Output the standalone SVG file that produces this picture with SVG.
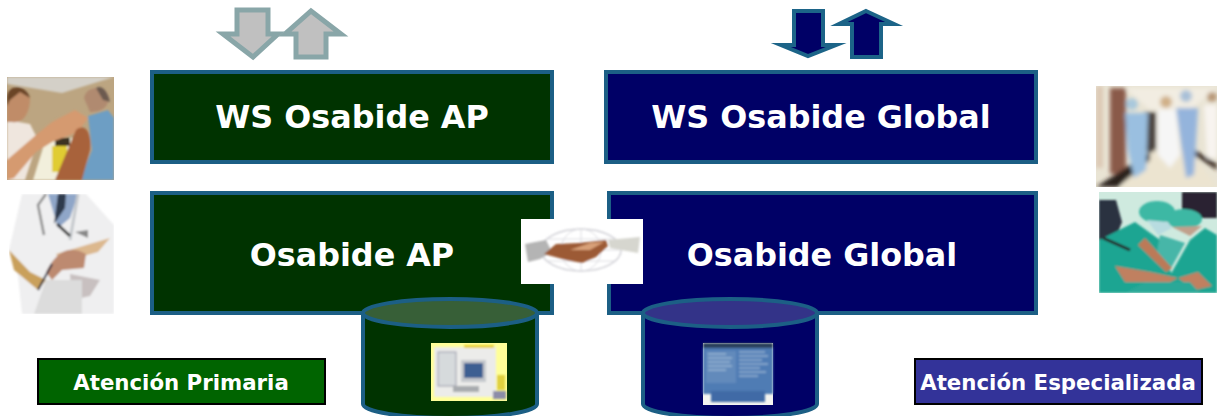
<svg xmlns="http://www.w3.org/2000/svg" width="1217" height="416" viewBox="0 0 1217 416">
<style>
.box{stroke:#1c5f85;stroke-width:4}
.g{fill:#003300}
.n{fill:#000066}
.t{font-family:"DejaVu Sans",Verdana,sans-serif;font-weight:700;fill:#fff;text-anchor:middle}
.big{font-size:31.800px}
.small{font-size:21.300px}
.lab{stroke:#000;stroke-width:2}
.ga{fill:#c0c0c0;stroke:#89a6a8;stroke-width:5;stroke-miterlimit:20}
.na{fill:#000066;stroke:#1c6488;stroke-width:4;stroke-miterlimit:20}
.cs{stroke:#1c5f85;stroke-width:4}
</style>
<defs>
<filter id="b" x="-10%" y="-10%" width="120%" height="120%"><feGaussianBlur stdDeviation="1"/></filter>
<filter id="b3" x="-20%" y="-20%" width="140%" height="140%"><feGaussianBlur stdDeviation="2"/></filter>
<clipPath id="c1"><rect x="7" y="77" width="107" height="103"/></clipPath>
<clipPath id="c2"><rect x="9" y="194" width="105" height="120"/></clipPath>
<clipPath id="c3"><rect x="1096" y="86" width="121" height="101"/></clipPath>
<clipPath id="c4"><rect x="1099" y="192" width="118" height="101"/></clipPath>
</defs>
<g id="arrows-ap">
<path class="ga" d="M237 10H268V34H278L253 57L223 34H237Z"/>
<path class="ga" d="M311 11L341 34H326V57H296V34H285Z"/>
</g>
<g id="arrows-global">
<path class="na" d="M794 11H823V45H836L808 56L781 45H794Z"/>
<path class="na" d="M866 11L894 24H881V57H852V24H839Z"/>
</g>
<g id="ws-ap"><rect class="box g" x="152" y="72" width="400" height="90"/><text class="t big" x="352" y="128">WS Osabide AP</text></g>
<g id="ws-global"><rect class="box n" x="606" y="72" width="430" height="90"/><text class="t big" x="821" y="128">WS Osabide Global</text></g>
<g id="osabide-ap"><rect class="box g" x="152" y="193" width="400" height="120"/><text class="t big" x="352" y="266">Osabide AP</text></g>
<g id="osabide-global"><rect class="box n" x="609" y="193" width="427" height="120"/><text class="t big" x="822" y="266">Osabide Global</text></g>
<g id="db-ap">
<path class="cs g" d="M363 313V404A87 14 0 0 0 537 404V313Z"/>
<ellipse class="cs" fill="#375f37" cx="450" cy="313" rx="87" ry="14"/>
<rect x="431" y="343" width="76" height="58" fill="#ffff99"/>
<g filter="url(#b)">
<rect x="434" y="347" width="62" height="50" fill="#ececea"/>
<rect x="464" y="345" width="30" height="3" fill="#e6cf30"/>
<rect x="438" y="352" width="18" height="34" fill="#d6dadc" stroke="#99a" stroke-width="1"/>
<rect x="461" y="360" width="25" height="22" fill="#c4c7cc"/>
<rect x="464" y="363" width="19" height="15" fill="#3c5f92"/>
<rect x="453" y="386" width="26" height="6" fill="#a8abaf"/>
<rect x="497" y="375" width="8" height="15" fill="#e0d040"/>
<rect x="493" y="391" width="13" height="8" fill="#8c8ca8"/>
</g>
</g>
<g id="db-global">
<path class="cs n" d="M643 313V404A87 14 0 0 0 817 404V313Z"/>
<ellipse class="cs" fill="#333388" cx="730" cy="313" rx="87" ry="14"/>
<rect x="703" y="343" width="70" height="62" fill="#f4f4f0"/>
<g filter="url(#b)">
<rect x="703" y="343" width="70" height="51" fill="#4f7cb4"/>
<rect x="703" y="343" width="70" height="5" fill="#2c3f5c"/>
<rect x="706" y="351" width="30" height="32" fill="#6f95c0" opacity=".6"/>
<path d="M739 352H765M739 356H768M739 360H762M739 364H768M739 368H760M739 372H766M739 376H758M708 354H726M708 358H732M708 362H730M708 366H732M708 370H726" stroke="#b4cbe0" stroke-width="1" fill="none"/>
<rect x="711" y="391" width="54" height="11" fill="#3f6aa6"/>
</g>
</g>
<g id="handshake">
<rect x="521" y="219" width="122" height="65" fill="#fff"/>
<g filter="url(#b)">
<ellipse cx="581" cy="250" rx="40" ry="21" fill="none" stroke="#d0d0d6" stroke-width="1.500"/>
<ellipse cx="581" cy="250" rx="20" ry="21" fill="none" stroke="#dcdce0" stroke-width="1"/>
<path d="M581 229V271M543 250H619M548 239H614M548 261H614" stroke="#dcdce0" stroke-width="1" fill="none"/>
<path d="M525 244L546 240L552 252L540 259L528 262Z" fill="#b4b4b4"/>
<path d="M608 240L640 237L638 253L610 248Z" fill="#d6d6cf"/>
<path d="M544 254L556 244L578 243L606 240L608 246L596 257L582 263L566 260Z" fill="#9c5a34"/>
<path d="M570 250L590 243L604 242L590 250Z" fill="#d8a078"/>
</g>
</g>
<g id="label-primaria"><rect class="lab" x="38" y="359" width="287" height="45" fill="#006400"/><text class="t small" x="181" y="390">Atención Primaria</text></g>
<g id="label-especializada"><rect class="lab" x="915" y="359" width="287" height="45" fill="#333399"/><text class="t small" x="1058" y="390">Atención Especializada</text></g>
<g id="photo-nurse" clip-path="url(#c1)">
<rect x="7" y="77" width="107" height="103" fill="#bca581"/>
<g filter="url(#b)">
<path d="M7 77H114L62 93L7 84Z" fill="#d4d0c8"/>
<path d="M33 180L46 138L72 138L66 180Z" fill="#f2efdc"/>
<rect x="52" y="146" width="15" height="26" fill="#e0cc30"/>
<rect x="55" y="138" width="15" height="8" fill="#3a3020"/>
<path d="M7 120L30 124L38 140L25 180H7Z" fill="#efe6de"/>
<path d="M7 100C10 88 25 88 30 98C30 112 24 124 12 122L7 122Z" fill="#c08c68"/>
<path d="M7 97C8 84 26 84 30 98L20 92L10 100L7 106Z" fill="#6a4528"/>
<path d="M7 160L36 135L52 122L75 110L88 118L78 132L52 142L36 152L14 178L7 180Z" fill="#d59a70"/>
<path d="M84 98C86 86 104 84 108 96C110 108 100 112 90 112Z" fill="#b08a70"/>
<path d="M96 88C102 84 108 92 110 102L103 100Z" fill="#6c5a50"/>
<path d="M88 116L108 110L114 118V180H80L92 150Z" fill="#6d9ec4"/>
<path d="M55 180L76 130C86 122 92 135 90 150L82 180Z" fill="#a8623a"/>
</g>
</g>
<g id="photo-doctor" clip-path="url(#c2)">
<rect x="9" y="194" width="105" height="120" fill="#fff"/>
<g filter="url(#b)">
<path d="M22 194H86L114 225V314H22L18 276L9 250Z" fill="#efeff0"/>
<path d="M48 194H78L70 218L58 228Z" fill="#8fa6c8"/>
<path d="M58 194H66L65 208L54 224Z" fill="#2e3a4e"/>
<path d="M46 194L38 205L44 235" stroke="#8c8c8c" stroke-width="2.500" fill="none"/>
<path d="M78 194L70 240" stroke="#c4c8cc" stroke-width="3" fill="none"/>
<path d="M56 254L110 238L98 252L62 262Z" fill="#dcb88e"/>
<path d="M46 272C58 248 72 246 86 254L84 268L62 270L52 280Z" fill="#bd8a70"/>
<path d="M57 224L70 236" stroke="#333" stroke-width="3"/>
<path d="M75 232L88 230L88 238Z" fill="#888"/>
<path d="M9 250L30 272L46 280L38 290L14 270Z" fill="#c9a05c"/>
<path d="M38 290L52 264" stroke="#334" stroke-width="2"/>
<path d="M70 274L100 280L90 296L72 300Z" fill="#c8c0c0"/>
<path d="M34 314L46 280H82V314Z" fill="#dcdcdc"/>
</g>
</g>
<g id="photo-corridor" clip-path="url(#c3)">
<rect x="1096" y="86" width="121" height="101" fill="#e9e4d4"/>
<g filter="url(#b3)">
<rect x="1096" y="86" width="7" height="82" fill="#dcc8b4"/>
<rect x="1110" y="88" width="16" height="86" fill="#8a5a48"/>
<path d="M1125 88H1217L1190 110H1150Z" fill="#f2ede2"/>
<rect x="1144" y="112" width="12" height="40" fill="#4c4440"/>
<path d="M1120 187L1155 150H1190L1217 187Z" fill="#ece4d0"/>
<path d="M1096 187L1150 152L1150 160L1118 187Z" fill="#2c211c"/>
<path d="M1192 148L1217 164V170L1192 154Z" fill="#3a2c24"/>
<path d="M1125 113H1148L1146 170L1134 178L1128 150Z" fill="#9abfe0"/>
<circle cx="1132" cy="104" r="6" fill="#a8c8dc"/>
<path d="M1158 110H1176L1180 155L1170 168L1158 155Z" fill="#f6f6f6"/>
<circle cx="1166" cy="102" r="6" fill="#d0b088"/>
<path d="M1176 108H1198L1194 175L1186 178Z" fill="#94b4dc"/>
<circle cx="1186" cy="96" r="6" fill="#a8c0d8"/>
<path d="M1204 105H1217V158H1207Z" fill="#f8f4f0"/>
<circle cx="1212" cy="97" r="5" fill="#b89878"/>
</g>
</g>
<g id="photo-surgery" clip-path="url(#c4)">
<rect x="1099" y="192" width="118" height="101" fill="#cfeadf"/>
<g filter="url(#b)">
<rect x="1182" y="192" width="35" height="26" fill="#2a2430"/>
<path d="M1099 200H1116L1122 222L1115 240H1099Z" fill="#2a3040"/>
<path d="M1099 293V240L1135 222L1160 240L1172 275L1160 293Z" fill="#1fa592"/>
<path d="M1160 293L1190 240L1205 228L1217 235V293Z" fill="#1fa592"/>
<path d="M1160 235L1185 243L1170 270L1155 262Z" fill="#47b6a8"/>
<ellipse cx="1157" cy="212" rx="18" ry="11" fill="#3cb8a4"/>
<ellipse cx="1184" cy="219" rx="18" ry="10" fill="#3cb8a4"/>
<path d="M1147 220L1158 235L1172 228L1168 222Z" fill="#b8dce0"/>
<path d="M1172 227L1190 236L1202 226Z" fill="#c0a08c"/>
<path d="M1115 266L1150 272L1178 278L1170 282L1125 282Z" fill="#c08060"/>
<path d="M1145 238L1172 268L1166 272L1138 245Z" fill="#bb7a58"/>
<path d="M1178 278L1198 272L1212 286L1195 290Z" fill="#c08060"/>
<path d="M1125 293L1145 282L1190 282L1200 293Z" fill="#2ba898"/>
<path d="M1103 238L1130 250" stroke="#222" stroke-width="3"/>
</g>
</g>
</svg>
